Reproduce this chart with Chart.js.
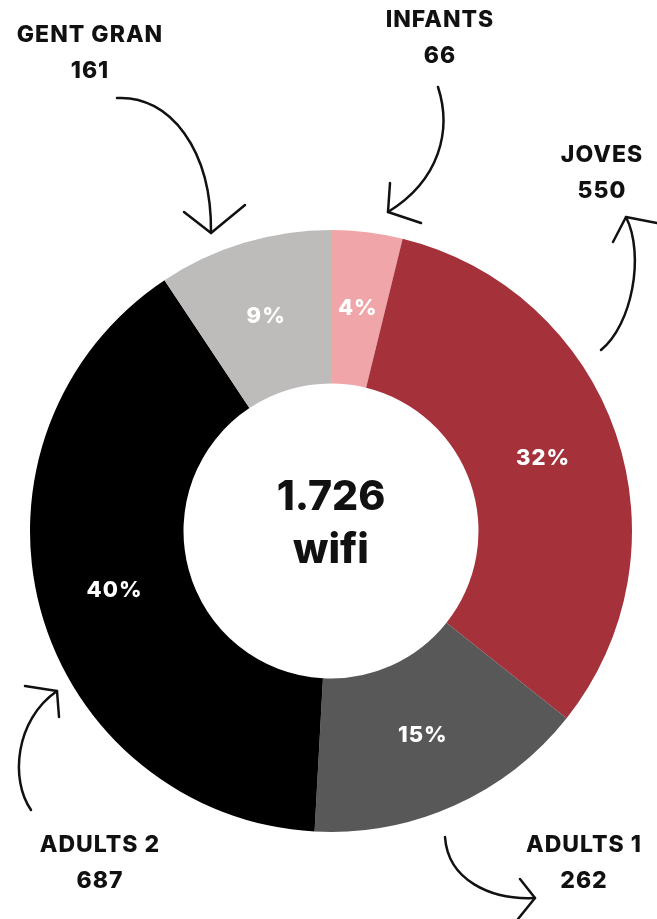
<!DOCTYPE html>
<html>
<head>
<meta charset="utf-8">
<script src="https://cdn.jsdelivr.net/npm/chart.js@4"></script>
<style>
  body { margin: 0; background: #ffffff; }
  canvas { display: block; }
</style>
</head>
<body>
<canvas id="wifiChart" width="657" height="919"></canvas>
<script>
// Chart data
const groups = ['INFANTS', 'JOVES', 'ADULTS 1', 'ADULTS 2', 'GENT GRAN'];
const users = [66, 550, 262, 687, 161];
const centerUnit = 'wifi';

// Styling (kept apart from the data)
const sliceColors = ['#F0A5A8', '#A5323B', '#585858', '#000000', '#BEBBBB'];
const FONT = 'Inter, "Open Sans", sans-serif';

// Where each outer callout sits, same order as groups
const calloutPos = [
    { x: 440, y: 20 },
    { x: 602, y: 155 },
    { x: 584, y: 845 },
    { x: 100, y: 845 },
    { x: 90, y: 35 }
];

// Hand-drawn arrows: bezier shaft + two head strokes
const arrows = [
    { p: [[438, 87], [452, 130], [440, 180], [388, 212]], head: [[390, 183], [421, 223]] },
    { p: [[601, 350], [632, 325], [645, 255], [626, 217]], head: [[613, 242], [657, 223]] },
    { p: [[445, 837], [448, 880], [490, 900], [535, 898]], head: [[520, 879], [518, 919]] },
    { p: [[31, 810], [10, 780], [15, 720], [57, 691]], head: [[25, 686], [59, 717]] },
    { p: [[117, 98], [170, 95], [212, 150], [211, 233]], head: [[184, 212], [245, 205]] }
];

const total = users.reduce((a, b) => a + b, 0);

function formatThousands(n) {
    return String(n).replace(/\B(?=(\d{3})+(?!\d))/g, '.');
}

// Percentages inside the ring, center total, callouts and arrows
const decorations = {
    id: 'decorations',
    afterDatasetsDraw(chart) {
        const ctx = chart.ctx;
        const meta = chart.getDatasetMeta(0);
        ctx.save();
        ctx.textAlign = 'center';
        ctx.textBaseline = 'middle';

        // percent labels
        ctx.fillStyle = '#ffffff';
        ctx.font = `800 22px ${FONT}`;
        ctx.letterSpacing = '1px';
        meta.data.forEach((arc, i) => {
            const pos = arc.tooltipPosition();
            const pct = Math.round(users[i] / total * 100) + '%';
            ctx.fillText(pct, pos.x, pos.y);
        });

        // center text
        const c = meta.data[0];
        ctx.fillStyle = '#111111';
        ctx.font = `800 41px ${FONT}`;
        ctx.letterSpacing = '0px';
        ctx.textBaseline = 'alphabetic';
        ctx.fillText(formatThousands(total), c.x, c.y - 21);
        ctx.fillText(centerUnit, c.x, c.y + 32);

        // callouts
        ctx.textBaseline = 'middle';
        ctx.font = `800 23px ${FONT}`;
        ctx.letterSpacing = '1px';
        groups.forEach((g, i) => {
            const p = calloutPos[i];
            ctx.fillText(g, p.x, p.y);
            ctx.fillText(String(users[i]), p.x, p.y + 36);
        });

        // arrows
        ctx.strokeStyle = '#111111';
        ctx.lineWidth = 2.5;
        ctx.lineCap = 'round';
        ctx.lineJoin = 'round';
        arrows.forEach(a => {
            const [p0, p1, p2, p3] = a.p;
            ctx.beginPath();
            ctx.moveTo(p0[0], p0[1]);
            ctx.bezierCurveTo(p1[0], p1[1], p2[0], p2[1], p3[0], p3[1]);
            ctx.stroke();
            ctx.beginPath();
            ctx.moveTo(a.head[0][0], a.head[0][1]);
            ctx.lineTo(p3[0], p3[1]);
            ctx.lineTo(a.head[1][0], a.head[1][1]);
            ctx.stroke();
        });
        ctx.restore();
    }
};

const config = {
    type: 'doughnut',
    data: {
        labels: groups,
        datasets: [{
            data: users,
            backgroundColor: sliceColors,
            borderWidth: 0
        }]
    },
    options: {
        responsive: false,
        animation: false,
        cutout: '49%',
        layout: {
            padding: { left: 30, right: 25, top: 230, bottom: 87 }
        },
        plugins: {
            legend: { display: false },
            tooltip: { enabled: false }
        }
    },
    plugins: [decorations]
};

const wifiChart = new Chart(document.getElementById('wifiChart').getContext('2d'), config);
</script>
</body>
</html>
